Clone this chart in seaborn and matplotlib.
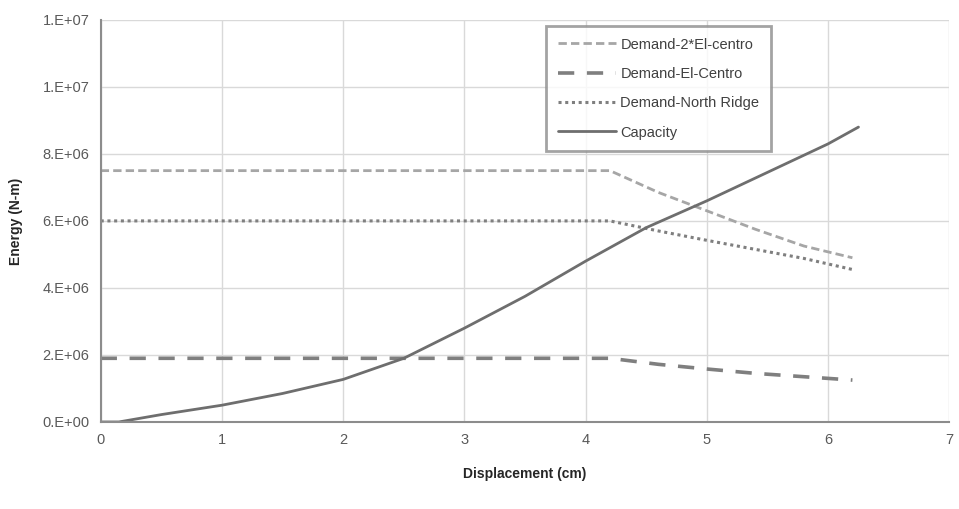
import matplotlib
matplotlib.use("Agg")
import matplotlib.pyplot as plt
import seaborn as sns
import numpy as np
import pandas as pd
from matplotlib.ticker import FuncFormatter

sns.set_theme(style="white")
plt.rcParams['font.family'] = ['Liberation Sans Narrow', 'Liberation Sans', 'DejaVu Sans']

# Data (Energy in N-m, displacement in cm)
demand_x = [0, 4.2, 4.6, 5.0, 5.4, 5.8, 6.2]
demand_2elcentro = [7.5e6, 7.5e6, 6.85e6, 6.3e6, 5.75e6, 5.25e6, 4.9e6]
demand_elcentro = [1.9e6, 1.9e6, 1.72e6, 1.58e6, 1.45e6, 1.35e6, 1.25e6]
demand_northridge = [6.0e6, 6.0e6, 5.7e6, 5.42e6, 5.15e6, 4.88e6, 4.55e6]

capacity_x = [0, 0.15, 0.5, 1.0, 1.5, 2.0, 2.5, 3.0, 3.5, 4.0, 4.5, 5.0, 5.5, 6.0, 6.25]
capacity = [0, 0.0, 0.22e6, 0.5e6, 0.85e6, 1.27e6, 1.9e6, 2.8e6, 3.75e6, 4.8e6, 5.8e6, 6.6e6, 7.45e6, 8.3e6, 8.8e6]

x_ticks = [0, 1, 2, 3, 4, 5, 6, 7]
y_ticks = [0, 2e6, 4e6, 6e6, 8e6, 10e6, 12e6]

fig = plt.figure(figsize=(9.59, 5.09), dpi=100)
ax = fig.add_axes([0.105, 0.171, 0.885, 0.79])

series = [
    ("Demand-2*El-centro", demand_x, demand_2elcentro, dict(color="#a6a6a6", linestyle=(0, (3, 1.5)), linewidth=2.0)),
    ("Demand-El-Centro", demand_x, demand_elcentro, dict(color="#7f7f7f", linestyle=(0, (4.5, 3.5)), linewidth=2.6)),
    ("Demand-North Ridge", demand_x, demand_northridge, dict(color="#7f7f7f", linestyle=(0, (1, 1.2)), linewidth=2.2)),
    ("Capacity", capacity_x, capacity, dict(color="#6e6e6e", linestyle="-", linewidth=2.0)),
]

for name, xs, ys, st in series:
    df = pd.DataFrame({"x": xs, "y": ys})
    sns.lineplot(data=df, x="x", y="y", ax=ax, label=name, sort=False, estimator=None, **st)

ax.set_xlim(0, 7)
ax.set_ylim(0, 12e6)
ax.set_xticks(x_ticks)
ax.set_yticks(y_ticks)
ax.yaxis.set_major_formatter(FuncFormatter(lambda v, p: "%#.0E" % v))
ax.grid(True, color="#d9d9d9", linewidth=1.0)
ax.set_axisbelow(True)

for s in ["top", "right"]:
    ax.spines[s].set_visible(False)
for s in ["left", "bottom"]:
    ax.spines[s].set_color("#8c8c8c")
    ax.spines[s].set_linewidth(1.5)

ax.tick_params(axis="both", colors="#595959", labelsize=10.5, length=0, pad=8)
ax.set_xlabel("Displacement (cm)", fontsize=10, fontweight="bold", color="#262626", labelpad=14)
ax.set_ylabel("Energy (N-m)", fontsize=10, fontweight="bold", color="#262626", labelpad=14)

leg = ax.legend(loc="upper left", bbox_to_anchor=(0.516, 1.003), frameon=True, fancybox=False,
                fontsize=10.5, handlelength=4.0, handletextpad=0.3, labelspacing=1.05,
                borderpad=0.8, labelcolor="#404040")
leg.get_frame().set_edgecolor("#8c8c8c")
leg.get_frame().set_linewidth(2.0)

fig.savefig("out.png", dpi=100)
